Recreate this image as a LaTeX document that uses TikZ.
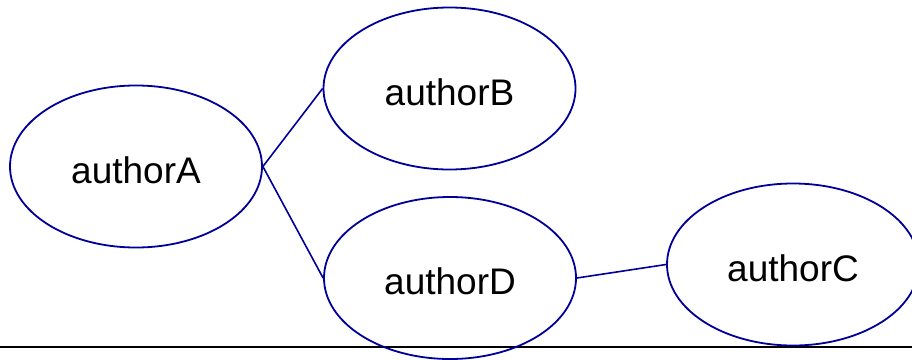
\documentclass[tikz,border=0pt]{standalone}
\usepackage{fontspec}
\setmainfont{Liberation Sans}
\usetikzlibrary{shapes.geometric}
\definecolor{edgeblue}{HTML}{000099}
\tikzset{
  author/.style={ellipse, draw=edgeblue, line width=1.8pt, inner sep=0pt,
    minimum width=252pt, minimum height=162pt, text height=33pt, text depth=0pt,
    font=\fontsize{37}{42}\selectfont},
  link/.style={draw=edgeblue, line width=1.6pt}
}
\begin{document}
\begin{tikzpicture}[x=1pt, y=-1pt]
  \useasboundingbox (0,0) rectangle (912,359);
  % baseline rule
  \coordinate (ruleL) at (0,346.5);
  \coordinate (ruleR) at (912,346.5);
  \draw[line width=2pt, black] (ruleL) -- (ruleR);
  % author nodes
  \node[author] (A) at (136,166.5) {authorA};
  \node[author] (B) at (449.5,88.5) {authorB};
  \node[author] (D) at (450,278) {authorD};
  \node[author] (C) at (793,264.5) {authorC};
  % co-author links
  \draw[link] (A.east) -- (B.west);
  \draw[link] (A.east) -- (D.west);
  \draw[link] (D.east) -- (C.west);
\end{tikzpicture}
\end{document}
